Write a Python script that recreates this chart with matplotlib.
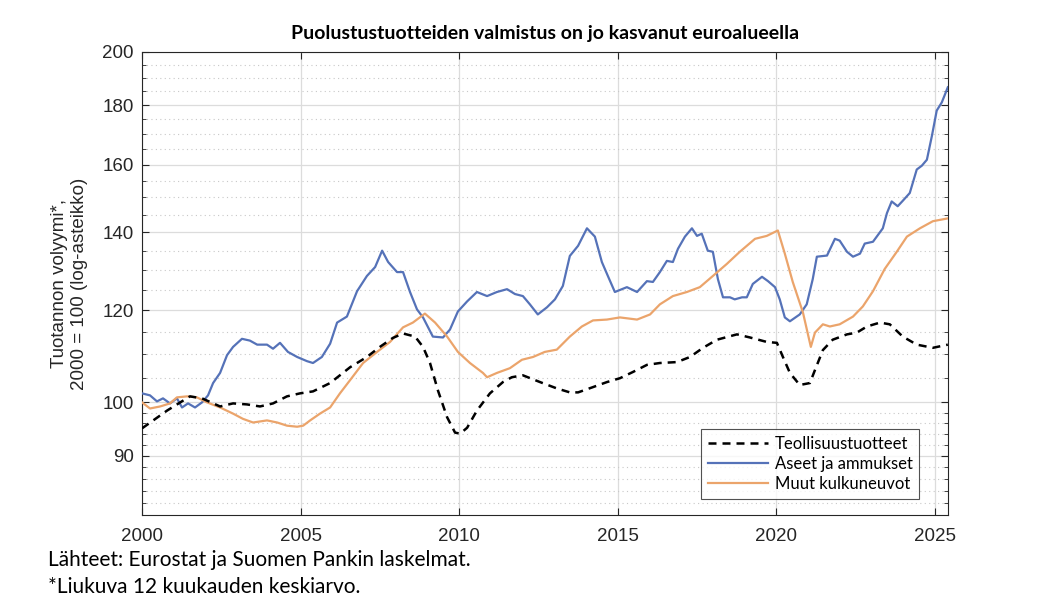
import numpy as np
import matplotlib
matplotlib.use('Agg')
import matplotlib.pyplot as plt
from matplotlib.ticker import FixedLocator, NullFormatter

# Teollisuustuotteet (vuosi, indeksi)
teol_v = [2000.0, 2000.79, 2001.51, 2001.89, 2002.46, 2002.87, 2003.31, 2003.72, 2004.13, 2004.57,
          2004.98, 2005.39, 2005.93, 2006.56, 2007.09, 2007.50, 2007.91, 2008.23, 2008.61, 2008.86,
          2009.08, 2009.33, 2009.62, 2009.87, 2010.03, 2010.25, 2010.56, 2010.97, 2011.38, 2011.66,
          2012.01, 2012.55, 2013.08, 2013.49, 2013.75, 2014.19, 2014.66, 2015.07, 2015.48, 2015.92,
          2016.33, 2016.87, 2017.28, 2017.69, 2018.13, 2018.76, 2019.17, 2019.70, 2020.02, 2020.21,
          2020.43, 2020.74, 2021.06, 2021.22, 2021.47, 2021.78, 2022.23, 2022.54, 2022.86, 2023.27,
          2023.58, 2023.99, 2024.43, 2024.94, 2025.41]
teol = [95.0, 98.4, 101.2, 100.8, 99.2, 99.8, 99.6, 99.2, 99.8, 101.2,
        101.8, 102.2, 103.9, 107.2, 109.4, 111.6, 113.6, 114.6, 113.9, 111.6,
        108.1, 102.4, 97.1, 94.2, 94.0, 95.1, 98.4, 101.8, 104.1, 105.1,
        105.5, 104.1, 102.8, 102.0, 102.0, 103.0, 104.1, 104.9, 106.2, 107.7,
        108.1, 108.3, 109.4, 111.4, 113.2, 114.4, 113.7, 112.7, 112.5, 109.4,
        106.0, 103.5, 103.9, 106.6, 110.9, 113.2, 114.4, 114.8, 116.2, 117.1,
        116.7, 113.9, 112.1, 111.4, 112.1]

# Aseet ja ammukset
aseet_v = [2000.0, 2000.25, 2000.47, 2000.66, 2000.88, 2001.10, 2001.26, 2001.45, 2001.67, 2001.89,
           2002.08, 2002.24, 2002.46, 2002.68, 2002.87, 2003.15, 2003.40, 2003.63, 2003.94, 2004.13,
           2004.35, 2004.60, 2004.89, 2005.20, 2005.39, 2005.67, 2005.93, 2006.15, 2006.46, 2006.78,
           2007.09, 2007.35, 2007.57, 2007.76, 2008.04, 2008.23, 2008.45, 2008.67, 2008.86, 2009.17,
           2009.49, 2009.71, 2009.96, 2010.25, 2010.56, 2010.88, 2011.19, 2011.51, 2011.76, 2012.01,
           2012.23, 2012.48, 2012.77, 2013.02, 2013.27, 2013.49, 2013.75, 2014.03, 2014.28, 2014.50,
           2014.69, 2014.91, 2015.29, 2015.61, 2015.92, 2016.11, 2016.33, 2016.55, 2016.74, 2016.90,
           2017.12, 2017.34, 2017.50, 2017.65, 2017.84, 2018.00, 2018.16, 2018.32, 2018.54, 2018.69,
           2018.92, 2019.07, 2019.26, 2019.55, 2019.74, 2019.96, 2020.11, 2020.27, 2020.43, 2020.74,
           2020.96, 2021.15, 2021.28, 2021.60, 2021.85, 2022.00, 2022.23, 2022.42, 2022.64, 2022.79,
           2023.05, 2023.36, 2023.49, 2023.64, 2023.83, 2023.99, 2024.21, 2024.43, 2024.59, 2024.75,
           2024.91, 2025.06, 2025.22, 2025.41]
aseet = [101.8, 101.4, 100.2, 100.8, 99.8, 100.8, 99.0, 99.8, 99.0, 100.0,
         101.4, 103.9, 106.0, 109.8, 111.6, 113.4, 113.0, 112.1, 112.1, 111.2,
         112.5, 110.5, 109.4, 108.5, 108.1, 109.4, 112.3, 117.1, 118.5, 124.6,
         128.4, 130.7, 135.0, 132.0, 129.4, 129.4, 124.4, 120.2, 118.3, 113.9,
         113.7, 115.5, 119.7, 122.1, 124.4, 123.4, 124.4, 125.1, 123.9, 123.4,
         121.4, 119.0, 120.7, 122.6, 125.9, 133.6, 136.3, 141.1, 138.8, 132.0,
         128.4, 124.4, 125.6, 124.4, 127.1, 126.9, 129.4, 132.3, 132.0, 135.5,
         138.8, 141.1, 139.0, 139.6, 135.0, 134.7, 127.6, 123.1, 123.1, 122.6,
         123.1, 123.1, 126.4, 128.2, 127.1, 125.6, 122.6, 118.3, 117.4, 119.0,
         121.4, 127.6, 133.4, 133.7, 138.2, 137.7, 134.7, 133.4, 134.2, 136.9,
         137.4, 141.1, 145.4, 148.8, 147.4, 149.0, 151.3, 158.5, 159.7, 161.6,
         169.5, 178.1, 181.0, 186.5]

# Muut kulkuneuvot
muut_v = [2000.0, 2000.25, 2000.57, 2000.88, 2001.10, 2001.42, 2001.73, 2002.05, 2002.46, 2002.87,
          2003.18, 2003.50, 2003.94, 2004.26, 2004.57, 2004.89, 2005.08, 2005.30, 2005.61, 2005.93,
          2006.24, 2006.56, 2006.97, 2007.41, 2007.82, 2008.23, 2008.54, 2008.92, 2009.24, 2009.62,
          2009.96, 2010.34, 2010.75, 2010.88, 2011.19, 2011.60, 2011.98, 2012.33, 2012.70, 2013.08,
          2013.49, 2013.87, 2014.22, 2014.66, 2015.07, 2015.61, 2016.02, 2016.33, 2016.74, 2017.18,
          2017.59, 2018.00, 2018.44, 2018.85, 2019.33, 2019.70, 2020.05, 2020.27, 2020.52, 2020.84,
          2021.09, 2021.22, 2021.47, 2021.69, 2022.00, 2022.42, 2022.73, 2023.05, 2023.42, 2023.80,
          2024.12, 2024.53, 2024.94, 2025.41]
muut = [100.0, 98.8, 99.2, 99.8, 101.0, 101.2, 101.0, 100.0, 99.0, 97.8,
        96.8, 96.1, 96.5, 96.1, 95.5, 95.3, 95.5, 96.5, 97.8, 99.0,
        101.8, 104.5, 108.1, 110.5, 112.7, 116.0, 117.1, 119.2, 117.1, 113.9,
        110.5, 108.1, 106.0, 105.1, 106.0, 107.0, 108.8, 109.4, 110.5, 111.0,
        113.9, 116.2, 117.6, 117.8, 118.3, 117.8, 119.0, 121.4, 123.4, 124.4,
        125.6, 128.4, 131.5, 134.7, 138.2, 139.0, 140.5, 134.2, 126.9, 119.5,
        111.6, 114.8, 116.7, 116.2, 116.7, 118.5, 120.9, 124.6, 130.2, 134.7,
        138.8, 141.1, 143.1, 143.9]

x_ticks = [2000, 2005, 2010, 2015, 2020, 2025]
y_ticks = [90, 100, 120, 140, 160, 180, 200]
y_minor = [82, 84, 86, 88, 92, 94, 96, 98, 105, 110, 115, 125, 130, 135,
           145, 150, 155, 165, 170, 175, 185, 190, 195]

sininen = '#5572b8'
oranssi = '#eba46b'
reuna = '#262626'

fig = plt.figure(figsize=(10.37, 5.97), dpi=100)
ax = fig.add_axes([0.137, 0.137, 0.777, 0.776])

ax.plot(teol_v, teol, color='black', lw=1.8, ls=(0, (3.2, 2.4)), label='Teollisuustuotteet', zorder=4)
ax.plot(aseet_v, aseet, color=sininen, lw=1.6, label='Aseet ja ammukset', zorder=3)
ax.plot(muut_v, muut, color=oranssi, lw=1.6, label='Muut kulkuneuvot', zorder=3)

ax.set_yscale('log')
ax.set_xlim(2000, 2025.41)
ax.set_ylim(80, 200)
ax.yaxis.set_major_locator(FixedLocator(y_ticks))
ax.yaxis.set_minor_locator(FixedLocator(y_minor))
ax.yaxis.set_minor_formatter(NullFormatter())
ax.set_yticklabels([str(v) for v in y_ticks])
ax.set_xticks(x_ticks)

ax.grid(True, which='major', color='#dcdcdc', lw=0.9, zorder=0)
ax.grid(True, which='minor', axis='y', color='#c8c8c8', lw=0.8, ls=(0, (1, 3)), zorder=0)

for s in ax.spines.values():
    s.set_color(reuna)
    s.set_linewidth(0.8)
ax.tick_params(which='both', direction='in', top=True, right=True, colors=reuna,
               labelsize=13.5, labelcolor=reuna)
ax.tick_params(which='major', length=5)
ax.tick_params(which='minor', length=3)
ax.tick_params(axis='x', pad=9)
ax.tick_params(axis='y', pad=6)
for lab in ax.get_xticklabels() + ax.get_yticklabels():
    lab.set_fontfamily('Liberation Sans')

ax.set_ylabel('Tuotannon volyymi*,\n2000 = 100 (log-asteikko)', fontsize=13.5,
              family='Liberation Sans', color=reuna, labelpad=10, linespacing=1.25)
ax.set_title('Puolustustuotteiden valmistus on jo kasvanut euroalueella', fontsize=14,
             family='Lato', weight='bold', pad=9)

leg = ax.legend(loc='lower right', bbox_to_anchor=(0.975, 0.018),
                prop={'family': 'Lato', 'size': 12}, frameon=True, fancybox=False,
                handlelength=3.6, borderpad=0.4, labelspacing=0.25, handletextpad=0.4)
leg.get_frame().set_edgecolor(reuna)
leg.get_frame().set_linewidth(0.8)

fig.text(0.046, 0.062, 'Lähteet: Eurostat ja Suomen Pankin laskelmat.', fontsize=15,
         family='Lato', va='center')
fig.text(0.046, 0.017, '*Liukuva 12 kuukauden keskiarvo.', fontsize=15,
         family='Lato', va='center')

plt.savefig('out.png', dpi=100)
